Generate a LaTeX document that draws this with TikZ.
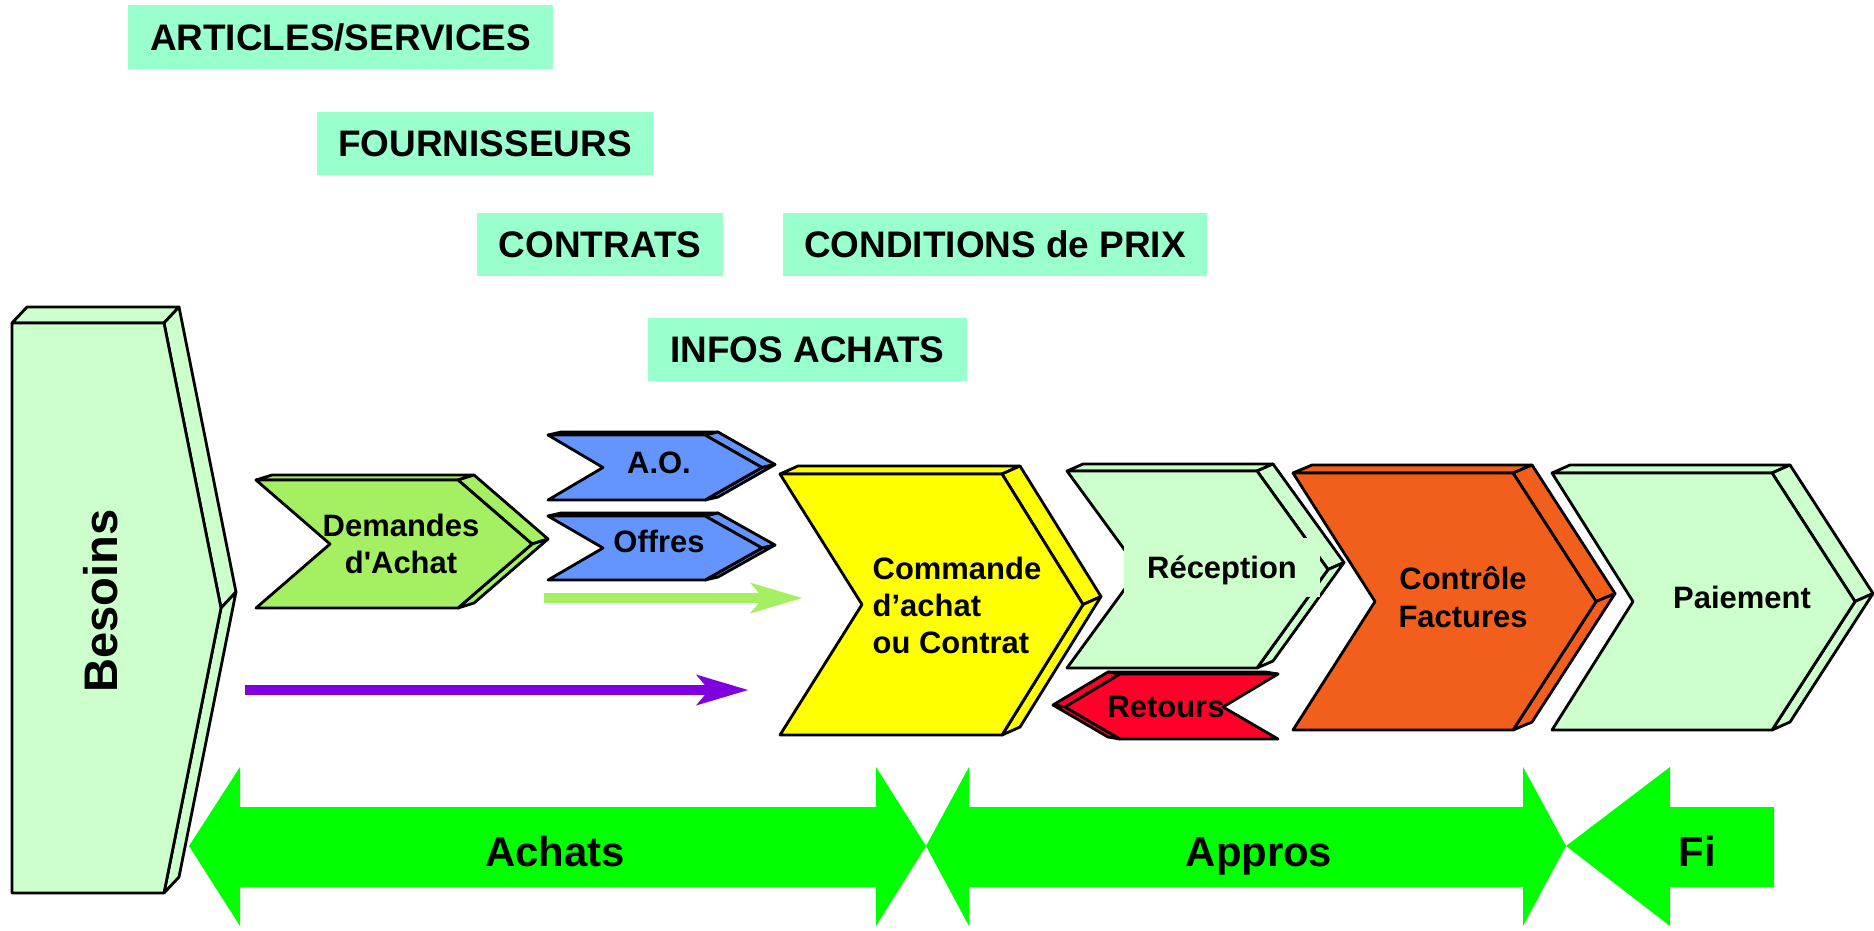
\documentclass[tikz,border=0pt]{standalone}
\usepackage{fontspec}
\setmainfont{Liberation Sans}[Ligatures=TeXOff]
\usetikzlibrary{arrows.meta}
\definecolor{labelbg}{RGB}{153,255,204}
\definecolor{palegreen}{RGB}{204,255,204}
\definecolor{dagreen}{RGB}{164,240,98}
\definecolor{aoblue}{RGB}{100,149,255}
\definecolor{cmdyellow}{RGB}{255,255,0}
\definecolor{ctlorange}{RGB}{242,95,28}
\definecolor{retred}{RGB}{255,0,40}
\definecolor{flowviolet}{RGB}{128,0,224}
\definecolor{bandgreen}{RGB}{0,255,0}
\tikzset{
  face/.style={draw=black, line width=0.8pt, line join=round},
  lbl/.style={fill=labelbg, font=\fontsize{10.5}{12.6}\selectfont\bfseries, inner sep=0pt, minimum height=0.63cm},
  chevtxt/.style={font=\fontsize{8.8}{10.6}\selectfont\bfseries, inner sep=0pt},
  bigtxt/.style={font=\fontsize{13.4}{16}\selectfont\bfseries, inner sep=0pt},
  bandtxt/.style={font=\fontsize{11.9}{14}\selectfont\bfseries, inner sep=0pt},
  band/.style={fill=bandgreen},
  flowarrow/.style={line width=0.1cm, line cap=butt, -{Stealth[length=0.52cm, width=0.31cm, inset=0.13cm, line width=0pt]}},
}
% #1 left x, #2 top y, #3 body width, #4 height, #5 tip depth, #6 notch depth, #7 depth dx, #8 depth up, #9 colour
\newcommand{\chevR}[9]{%
  \filldraw[face, fill=#9] (#1,#2) -- ({#1+#3},#2) -- ({#1+#3+#7},{#2-#8}) -- ({#1+#7},{#2-#8}) -- cycle;
  \filldraw[face, fill=#9] ({#1+#3},#2) -- ({#1+#3+#5},{#2+#4/2}) -- ({#1+#3+#5+#7},{#2+#4/2-#8}) -- ({#1+#3+#7},{#2-#8}) -- cycle;
  \filldraw[face, fill=#9] ({#1+#3+#5},{#2+#4/2}) -- ({#1+#3},{#2+#4}) -- ({#1+#3+#7},{#2+#4-#8}) -- ({#1+#3+#5+#7},{#2+#4/2-#8}) -- cycle;
  \filldraw[face, fill=#9] (#1,#2) -- ({#1+#3},#2) -- ({#1+#3+#5},{#2+#4/2}) -- ({#1+#3},{#2+#4}) -- (#1,{#2+#4}) -- ({#1+#6},{#2+#4/2}) -- cycle;
}
\begin{document}
\begin{tikzpicture}[x=0.01cm, y=-0.01cm]
\useasboundingbox (0,0) rectangle (1874,930);

% top labels
\node[lbl, minimum width=4.25cm] (articles) at (340.5,37) {ARTICLES/SERVICES};
\node[lbl, minimum width=3.36cm] (fournisseurs) at (485,143.5) {FOURNISSEURS};
\node[lbl, minimum width=2.46cm] (contrats) at (600,244.5) {CONTRATS};
\node[lbl, minimum width=4.24cm] (conditions) at (995,244.5) {CONDITIONS de PRIX};
\node[lbl, minimum width=3.19cm] (infos) at (807.5,349.5) {INFOS ACHATS};

% chevrons
\chevR{12}{323}{152}{570}{57}{0}{15}{16}{palegreen}
\node[bigtxt, rotate=90] (besoins) at (101,601) {Besoins};

\chevR{256}{480}{202}{128}{74}{74}{16}{5}{dagreen}
\node[chevtxt, align=center, anchor=north] (demandes) at (401,513) {Demandes\\d'Achat};

\chevR{548}{435}{157}{65}{57}{55}{13}{3}{aoblue}
\node[chevtxt, anchor=base] (ao) at (659,473) {A.O.};

\chevR{548}{516}{157}{64}{57}{55}{13}{3}{aoblue}
\node[chevtxt, anchor=base] (offres) at (659,552) {Offres};

\chevR{780}{474}{222}{261}{81}{82}{18}{8}{cmdyellow}
\node[chevtxt, align=left, anchor=north west] (commande) at (872,556) {Commande\\d’achat\\ou Contrat};

\chevR{1067}{471}{190}{197}{71}{72}{16}{7}{palegreen}
\node[chevtxt, anchor=base, fill=palegreen, text height=11.4pt, text depth=5.4pt, minimum width=1.95cm] (reception) at (1222,578) {Réception};

% Retours (pointing left)
\filldraw[face, fill=retred] (1120,674) -- (1278,674) -- (1266,672) -- (1108,672) -- cycle;
\filldraw[face, fill=retred] (1120,674) -- (1065,707) -- (1053,705) -- (1108,672) -- cycle;
\filldraw[face, fill=retred] (1065,707) -- (1120,739) -- (1108,737) -- (1053,705) -- cycle;
\filldraw[face, fill=retred] (1120,674) -- (1278,674) -- (1223,707) -- (1278,739) -- (1120,739) -- (1065,707) -- cycle;
\node[chevtxt, anchor=base] (retours) at (1166,717) {Retours};

\chevR{1293}{473}{220}{257}{83}{82}{19}{8}{ctlorange}
\node[chevtxt, align=center, anchor=north] (controle) at (1463,566) {Contrôle\\Factures};

\chevR{1552}{473}{220}{257}{83}{81}{18}{8}{palegreen}
\node[chevtxt, anchor=base] (paiement) at (1742,608) {Paiement};

% flow arrows
\coordinate (greenStart) at (544,598);
\coordinate (greenEnd) at (802,598);
\draw[flowarrow, dagreen] (greenStart) -- (greenEnd);
\coordinate (violetStart) at (245,690);
\coordinate (violetEnd) at (748,690);
\draw[flowarrow, flowviolet] (violetStart) -- (violetEnd);

% bottom bands
\fill[band] (189,846) -- (240,767) -- (240,807) -- (876,807) -- (876,767) -- (926,846) -- (876,926) -- (876,887) -- (240,887) -- (240,926) -- cycle;
\fill[band] (926,846) -- (969,767) -- (969,807) -- (1523,807) -- (1523,767) -- (1566,846) -- (1523,926) -- (1523,887) -- (969,887) -- (969,926) -- cycle;
\fill[band] (1566,846) -- (1670,767) -- (1670,807) -- (1774,807) -- (1774,887) -- (1670,887) -- (1670,926) -- cycle;
\node[bandtxt, anchor=base] (achats) at (555,866) {Achats};
\node[bandtxt, anchor=base] (appros) at (1259,866) {Appros};
\node[bandtxt, anchor=base] (fi) at (1697,866) {Fi};
\end{tikzpicture}
\end{document}
